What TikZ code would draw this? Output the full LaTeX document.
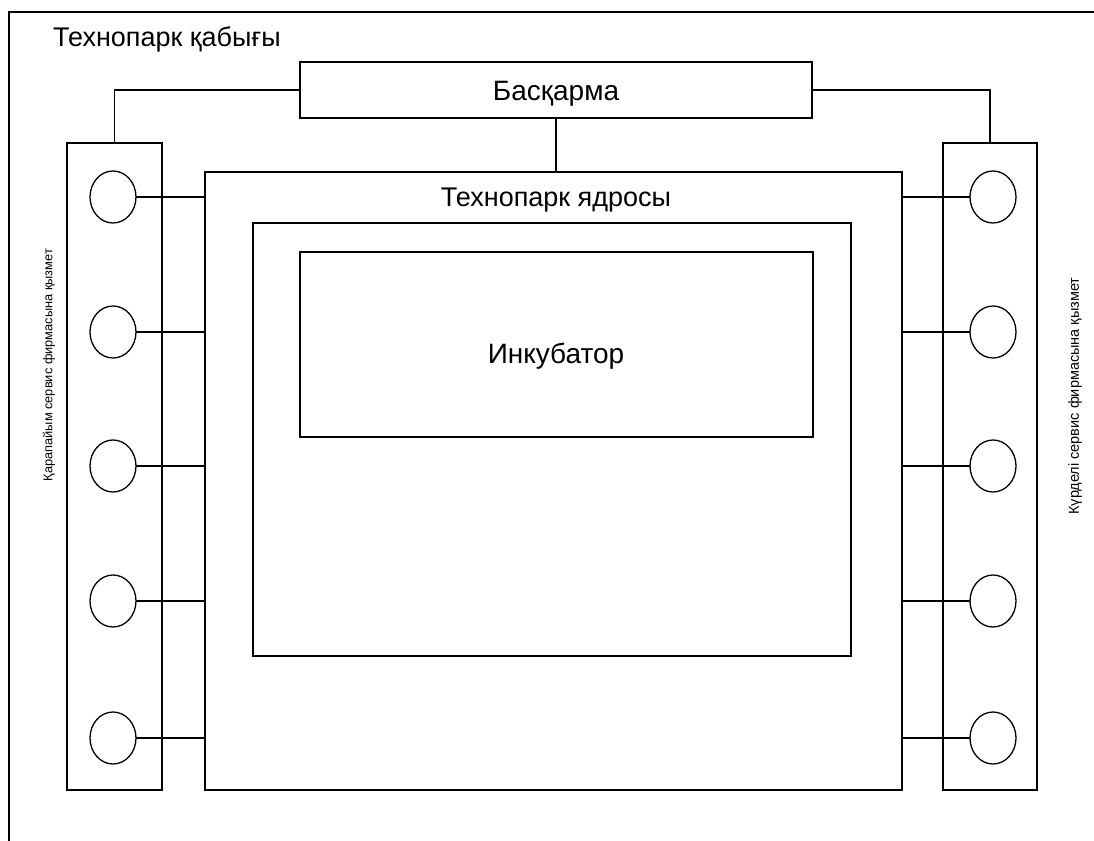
\documentclass[tikz,border=0pt]{standalone}
\usepackage{fontspec}
\setmainfont{Liberation Sans}
\usetikzlibrary{shapes.geometric}
\begin{document}
\begin{tikzpicture}[x=1pt,y=-1pt,
  box/.style={draw,line width=1.4pt,rectangle,inner sep=0pt,outer sep=0pt},
  oval/.style={draw,line width=1.3pt,ellipse,minimum width=46pt,minimum height=52pt,inner sep=0pt,outer sep=0pt},
  link/.style={line width=1.3pt},
  thicklink/.style={line width=2pt},
  lbl/.style={font=\fontsize{27}{31}\selectfont,inner sep=0pt,anchor=base},
  vlbl/.style={inner sep=0pt,rotate=90}]
\useasboundingbox (0,0) rectangle (1094,840);
% outer frame (extends beyond the picture)
\draw[line width=1.4pt] (9,845) -- (9,12);
\draw[line width=2.4pt] (8.3,12) -- (1100,12);
\node[lbl] (title) at (167,47) {Технопарк қабығы};
% boxes
\node[box,minimum width=512pt,minimum height=56pt] (bas) at (556,90) {};
\node[lbl,font=\fontsize{28}{32}\selectfont] (bastxt) at (556,101) {Басқарма};
\node[box,minimum width=95pt,minimum height=647pt] (lcol) at (114.5,466.5) {};
\node[box,minimum width=94pt,minimum height=647pt] (rcol) at (990,466.5) {};
\node[box,minimum width=697pt,minimum height=618pt] (core) at (553.5,481) {};
\node[lbl] (coretxt) at (556,206) {Технопарк ядросы};
\node[box,minimum width=598pt,minimum height=433pt] (mid) at (552,439.5) {};
\node[box,minimum width=513pt,minimum height=185pt] (inc) at (556.5,344.5) {};
\node[lbl,font=\fontsize{28}{32}\selectfont] (inctxt) at (556,363) {Инкубатор};
\node[vlbl,font=\fontsize{12.8}{15}\selectfont] (ltxt) at (49,365) {Қарапайым сервис фирмасына қызмет};
\node[vlbl,font=\fontsize{14.5}{17}\selectfont] (rtxt) at (1075,396) {Күрделі сервис фирмасына қызмет};
% top connectors
\draw[link] (bas.west) -| (lcol.north);
\draw[link] (bas.east) -| (rcol.north);
\draw[link] (bas.south) -- (core.north -| bas.south);
% circles
\foreach \i/\y/\w in {1/197/link,2/332/thicklink,3/466/thicklink,4/601/link,5/738/link}{
  \node[oval] (lc\i) at (113,\y) {};
  \node[oval] (rc\i) at (993,\y) {};
  \draw[\w] (lc\i.east) -- (core.west |- lc\i.east);
  \draw[link] (core.east |- rc\i.west) -- (rc\i.west);
}
\end{tikzpicture}
\end{document}
